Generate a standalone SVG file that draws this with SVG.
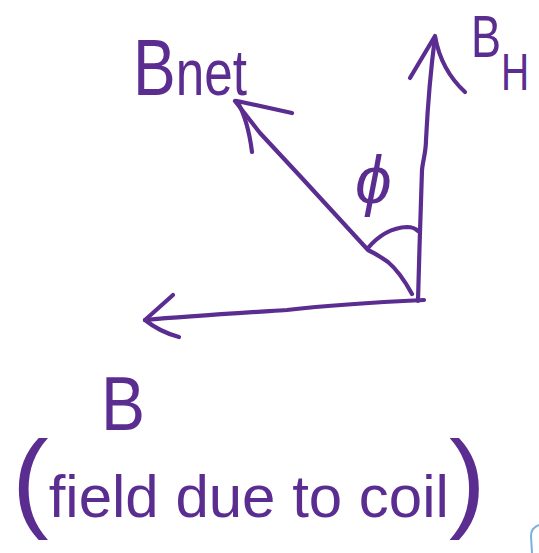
<svg xmlns="http://www.w3.org/2000/svg" width="539" height="553" viewBox="0 0 539 553">
<style>
.ink{fill:none;stroke:#5b2d90;stroke-width:4.2;stroke-linecap:round;stroke-linejoin:round}
.lbl{fill:#5b2d90;font-family:"Liberation Sans","DejaVu Sans",sans-serif}
</style>
<rect width="539" height="553" fill="#ffffff"/>
<g id="connectors">
  <g id="arrow-BH">
    <path class="ink" d="M418,301 C419,260 421,200 422,170 C423,160 426,152 426,140 C428,100 432,60 435,37"/>
    <path class="ink" d="M410,78 L435,36 Q441,70 465,92"/>
  </g>
  <g id="arrow-B">
    <path class="ink" d="M424,300 C380,302 330,305 287,310 C240,313 190,316 145,320"/>
    <path class="ink" d="M173,295 L145,320 Q160,332 179,337"/>
  </g>
  <g id="arrow-Bnet">
    <path class="ink" d="M412,294 Q400,272 388,262 Q378,255 368,250 L300,176 L260,133 L235,101"/>
    <path class="ink" d="M292,113 L237,101 Q248,120 252,152"/>
  </g>
</g>
<g id="angle">
  <path class="ink" d="M368,248 Q385,228 407,227 Q414,227 418,231"/>
  <text class="lbl" x="355" y="203" font-size="66" font-style="italic" font-family="DejaVu Sans, sans-serif">ϕ</text>
</g>
<g id="label-Bnet">
  <text class="lbl" transform="translate(133,95) scale(0.8,1)" font-size="80">B<tspan font-size="64">net</tspan></text>
</g>
<g id="label-BH">
  <text class="lbl" transform="translate(471,57) scale(0.75,1)" font-size="60">B<tspan dy="33" font-size="52">H</tspan></text>
</g>
<g id="label-B">
  <text class="lbl" x="101" y="430" font-size="76" textLength="44" lengthAdjust="spacingAndGlyphs">B</text>
  <text class="lbl" x="12" y="517"><tspan font-size="110">(</tspan><tspan font-size="60">field due to coil</tspan><tspan font-size="110">)</tspan></text>
</g>
<path d="M539,525 Q531,528 531,536 L532,553" fill="none" stroke="#7ab0e2" stroke-width="2"/>
</svg>
